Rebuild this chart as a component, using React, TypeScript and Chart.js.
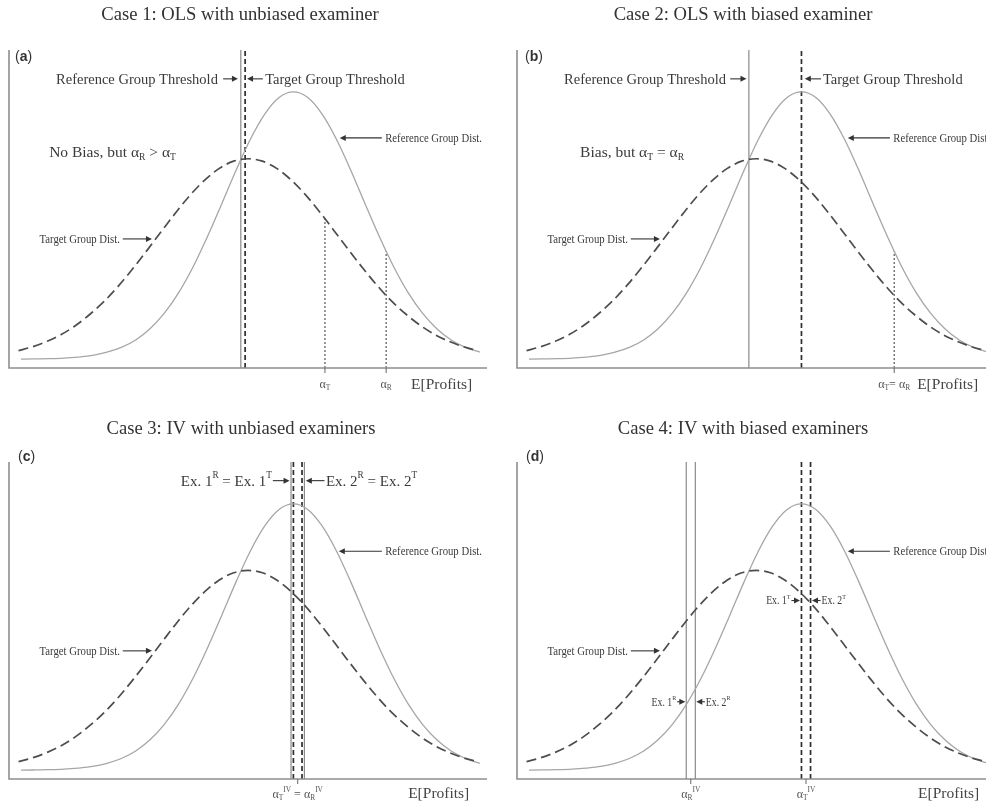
import React, { useEffect, useRef } from "react";
import { Chart, registerables } from "chart.js";
Chart.register(...registerables);

// ---- curve samples (x: profit axis 0..100, y: density, ref peak = 1) ----
const targetX = [2, 5, 8, 11, 14, 17, 20, 23, 26, 29, 32, 35, 38, 41, 44, 47, 50, 53, 56, 59, 62, 65, 68, 71, 74, 77, 80, 83, 86, 89, 92, 95, 98];
const targetY = [0.032, 0.047, 0.067, 0.093, 0.127, 0.169, 0.218, 0.276, 0.341, 0.41, 0.481, 0.551, 0.616, 0.671, 0.714, 0.741, 0.75, 0.741, 0.714, 0.671, 0.616, 0.551, 0.481, 0.41, 0.341, 0.276, 0.218, 0.169, 0.127, 0.093, 0.067, 0.047, 0.032];
const refX = [2.5, 5.5, 8.5, 11.5, 14.5, 17.5, 20.5, 23.5, 26.5, 29.5, 32.5, 35.5, 38.5, 41.5, 44.5, 47.5, 50.5, 53.5, 56.5, 59.5, 62.5, 65.5, 68.5, 71.5, 74.5, 77.5, 80.5, 83.5, 86.5, 89.5, 92.5, 95.5, 98.5];
const refY = [0.0, 0.001, 0.002, 0.004, 0.008, 0.014, 0.026, 0.044, 0.072, 0.114, 0.172, 0.249, 0.345, 0.458, 0.581, 0.707, 0.823, 0.917, 0.979, 1.0, 0.979, 0.917, 0.823, 0.707, 0.581, 0.458, 0.345, 0.249, 0.172, 0.114, 0.072, 0.044, 0.026];

const Y_MIN = -0.033;
const Y_MAX = 1.157;

// Panel (a)
const aRefThreshold = [48.5];
const aTargetThreshold = [49.4];
const aAlphaX = [66.1, 78.9];
const aAlphaTop = [0.526, 0.404];
// Panel (b)
const bRefThreshold = [48.5];
const bTargetThreshold = [59.5];
const bAlphaX = [78.9];
const bAlphaTop = [0.404];
// Panel (c)
const cRefExaminers = [59.0, 61.8];
const cTargetExaminers = [59.5, 61.3];
const cAlphaX = [60.4];
// Panel (d)
const dRefExaminers = [35.4, 37.3];
const dTargetExaminers = [59.5, 61.4];
const dAlphaX = [36.35, 60.45];

const titles = [
  "Case 1: OLS with unbiased examiner",
  "Case 2: OLS with biased examiner",
  "Case 3: IV with unbiased examiners",
  "Case 4: IV with biased examiners",
];
const letters = ["a", "b", "c", "d"];

const SERIF = '"Liberation Serif", "Times New Roman", serif';
const SANS = '"Liberation Sans", Arial, sans-serif';

type Seg = { t: string; s?: "sub" | "sup" };
type TextItem = { segs: Seg[]; x: number; y: number; align: "left" | "right" | "center"; size: number; scaleX?: number; color?: string };
type ArrowItem = { from: number; to: number; y: number };

function drawRich(ctx: CanvasRenderingContext2D, it: TextItem, px: number, py: number) {
  const size = it.size;
  const sx = it.scaleX ?? 1;
  const fontFor = (s?: string) => `${s ? size * 0.62 : size}px ${SERIF}`;
  let w = 0;
  const widths = it.segs.map((sg) => {
    ctx.font = fontFor(sg.s);
    const m = ctx.measureText(sg.t).width;
    w += m;
    return m;
  });
  let x0 = it.align === "left" ? 0 : it.align === "right" ? -w : -w / 2;
  ctx.save();
  ctx.translate(px, py);
  ctx.scale(sx, 1);
  ctx.fillStyle = it.color ?? "#3a3a3a";
  ctx.textAlign = "left";
  ctx.textBaseline = "alphabetic";
  it.segs.forEach((sg, i) => {
    ctx.font = fontFor(sg.s);
    const dy = sg.s === "sub" ? size * 0.2 : sg.s === "sup" ? -size * 0.5 : 0;
    ctx.fillText(sg.t, x0, size * 0.33 + dy);
    x0 += widths[i];
  });
  ctx.restore();
}

function drawArrow(ctx: CanvasRenderingContext2D, x1: number, x2: number, y: number) {
  const dir = x2 > x1 ? 1 : -1;
  ctx.save();
  ctx.strokeStyle = "#333";
  ctx.fillStyle = "#333";
  ctx.lineWidth = 1.1;
  ctx.setLineDash([]);
  ctx.beginPath();
  ctx.moveTo(x1, y);
  ctx.lineTo(x2 - dir * 3, y);
  ctx.stroke();
  ctx.beginPath();
  ctx.moveTo(x2, y);
  ctx.lineTo(x2 - dir * 6, y - 3);
  ctx.lineTo(x2 - dir * 6, y + 3);
  ctx.closePath();
  ctx.fill();
  ctx.restore();
}

type PanelCfg = {
  left: number; top: number; w: number; h: number;
  padding: { left: number; right: number; top: number; bottom: number };
  xMax: number;
  title: string; titleX: number; titleY: number;
  letter: string; letterX: number; letterY: number;
  ticks: number[];
  texts: TextItem[];
  arrows: ArrowItem[];
  datasets: any[];
};

function makePlugin(cfg: PanelCfg) {
  return {
    id: "annot",
    afterDatasetsDraw(chart: any) {
      const ctx: CanvasRenderingContext2D = chart.ctx;
      const { left, right, top, bottom } = chart.chartArea;
      const xs = chart.scales.x;
      const ys = chart.scales.y;
      ctx.save();
      ctx.setLineDash([]);
      ctx.strokeStyle = "#8e8e8e";
      ctx.lineWidth = 1.6;
      ctx.beginPath();
      ctx.moveTo(left, top);
      ctx.lineTo(left, bottom);
      ctx.lineTo(right, bottom);
      ctx.stroke();
      ctx.strokeStyle = "#666";
      ctx.lineWidth = 1;
      for (const t of cfg.ticks) {
        const p = xs.getPixelForValue(t);
        ctx.beginPath();
        ctx.moveTo(p, bottom);
        ctx.lineTo(p, bottom + 5);
        ctx.stroke();
      }
      ctx.fillStyle = "#333";
      ctx.font = `18.6px ${SERIF}`;
      ctx.textAlign = "center";
      ctx.textBaseline = "middle";
      ctx.fillText(cfg.title, cfg.titleX, cfg.titleY);
      // panel letter
      ctx.textAlign = "left";
      ctx.font = `14px ${SANS}`;
      let lx = cfg.letterX;
      ctx.fillText("(", lx, cfg.letterY);
      lx += ctx.measureText("(").width;
      ctx.font = `bold 14px ${SANS}`;
      ctx.fillText(cfg.letter, lx, cfg.letterY);
      lx += ctx.measureText(cfg.letter).width;
      ctx.font = `14px ${SANS}`;
      ctx.fillText(")", lx, cfg.letterY);
      for (const it of cfg.texts) drawRich(ctx, it, xs.getPixelForValue(it.x), ys.getPixelForValue(it.y));
      for (const a of cfg.arrows) drawArrow(ctx, xs.getPixelForValue(a.from), xs.getPixelForValue(a.to), ys.getPixelForValue(a.y));
      ctx.restore();
    },
  };
}

const curves = () => [
  {
    data: targetX.map((x, i) => ({ x, y: targetY[i] })),
    borderColor: "#4d4d4d", borderWidth: 1.7, borderDash: [10, 5], pointRadius: 0,
    cubicInterpolationMode: "monotone", fill: false,
  },
  {
    data: refX.map((x, i) => ({ x, y: refY[i] })),
    borderColor: "#a6a6a6", borderWidth: 1.3, pointRadius: 0,
    cubicInterpolationMode: "monotone", fill: false,
  },
];
const solidThr = { borderColor: "#8a8a8a", borderWidth: 1.2 };
const dashedThr = { borderColor: "#2e2e2e", borderWidth: 1.7, borderDash: [5, 3] };
const dottedAlpha = { borderColor: "#555", borderWidth: 1.2, borderDash: [2, 2] };
const vline = (x: number, yTop: number, style: any) => ({
  data: [{ x, y: Y_MIN }, { x, y: yTop }], pointRadius: 0, fill: false, ...style,
});

const alphaSeg = (sub: string): Seg[] => [{ t: "α" }, { t: sub, s: "sub" }];
const profits: Seg[] = [{ t: "E[Profits]" }];
const small = { size: 12.2, scaleX: 0.88 };

const panels: PanelCfg[] = [
  {
    left: 0, top: 0, w: 493, h: 400,
    padding: { left: 9, right: 6, top: 50, bottom: 32 }, xMax: 100,
    title: titles[0], titleX: 240, titleY: 15,
    letter: letters[0], letterX: 15, letterY: 57,
    ticks: aAlphaX,
    texts: [
      { segs: [{ t: "Reference Group Threshold" }], x: 43.7, y: 1.049, align: "right", size: 14.5 },
      { segs: [{ t: "Target Group Threshold" }], x: 53.6, y: 1.049, align: "left", size: 14.5 },
      { segs: [{ t: "No Bias, but α" }, { t: "R", s: "sub" }, { t: " > α" }, { t: "T", s: "sub" }], x: 8.4, y: 0.776, align: "left", size: 15.5 },
      { segs: [{ t: "Reference Group Dist." }], x: 78.7, y: 0.828, align: "left", ...small },
      { segs: [{ t: "Target Group Dist." }], x: 23.2, y: 0.45, align: "right", ...small },
      { segs: alphaSeg("T"), x: aAlphaX[0], y: -0.093, align: "center", size: 12, color: "#555" },
      { segs: alphaSeg("R"), x: aAlphaX[1], y: -0.093, align: "center", size: 12, color: "#555" },
      { segs: profits, x: 84.1, y: -0.093, align: "left", size: 15.5, color: "#444" },
    ],
    arrows: [
      { from: 44.8, to: 47.9, y: 1.049 },
      { from: 53.1, to: 49.8, y: 1.049 },
      { from: 78.0, to: 69.2, y: 0.828 },
      { from: 23.8, to: 29.9, y: 0.45 },
    ],
    datasets: [
      ...curves(),
      vline(aRefThreshold[0], Y_MAX, solidThr),
      vline(aTargetThreshold[0], Y_MAX, dashedThr),
      vline(aAlphaX[0], aAlphaTop[0], dottedAlpha),
      vline(aAlphaX[1], aAlphaTop[1], dottedAlpha),
    ],
  },
  {
    left: 493, top: 0, w: 493, h: 400,
    padding: { left: 24, right: 0, top: 50, bottom: 32 }, xMax: 98.1,
    title: titles[1], titleX: 250, titleY: 15,
    letter: letters[1], letterX: 32, letterY: 57,
    ticks: bAlphaX,
    texts: [
      { segs: [{ t: "Reference Group Threshold" }], x: 43.7, y: 1.049, align: "right", size: 14.5 },
      { segs: [{ t: "Target Group Threshold" }], x: 64.0, y: 1.049, align: "left", size: 14.5 },
      { segs: [{ t: "Bias, but α" }, { t: "T", s: "sub" }, { t: " = α" }, { t: "R", s: "sub" }], x: 13.2, y: 0.776, align: "left", size: 15.5 },
      { segs: [{ t: "Reference Group Dist." }], x: 78.7, y: 0.828, align: "left", ...small },
      { segs: [{ t: "Target Group Dist." }], x: 23.2, y: 0.45, align: "right", ...small },
      { segs: [{ t: "α" }, { t: "T", s: "sub" }, { t: "= α" }, { t: "R", s: "sub" }], x: bAlphaX[0], y: -0.093, align: "center", size: 12, color: "#555" },
      { segs: profits, x: 83.7, y: -0.093, align: "left", size: 15.5, color: "#444" },
    ],
    arrows: [
      { from: 44.6, to: 48.0, y: 1.049 },
      { from: 63.6, to: 60.2, y: 1.049 },
      { from: 78.0, to: 69.2, y: 0.828 },
      { from: 23.8, to: 29.9, y: 0.45 },
    ],
    datasets: [
      ...curves(),
      vline(bRefThreshold[0], Y_MAX, solidThr),
      vline(bTargetThreshold[0], Y_MAX, dashedThr),
      vline(bAlphaX[0], bAlphaTop[0], dottedAlpha),
    ],
  },
  {
    left: 0, top: 400, w: 493, h: 404,
    padding: { left: 9, right: 6, top: 62, bottom: 25 }, xMax: 100,
    title: titles[2], titleX: 241, titleY: 29,
    letter: letters[2], letterX: 18, letterY: 57,
    ticks: cAlphaX,
    texts: [
      { segs: [{ t: "Ex. 1" }, { t: "R", s: "sup" }, { t: " = Ex. 1" }, { t: "T", s: "sup" }], x: 55.0, y: 1.087, align: "right", size: 15 },
      { segs: [{ t: "Ex. 2" }, { t: "R", s: "sup" }, { t: " = Ex. 2" }, { t: "T", s: "sup" }], x: 66.3, y: 1.087, align: "left", size: 15 },
      { segs: [{ t: "Reference Group Dist." }], x: 78.7, y: 0.822, align: "left", ...small },
      { segs: [{ t: "Target Group Dist." }], x: 23.2, y: 0.448, align: "right", ...small },
      { segs: [{ t: "α" }, { t: "T", s: "sub" }, { t: "IV", s: "sup" }, { t: " = α" }, { t: "R", s: "sub" }, { t: "IV", s: "sup" }], x: cAlphaX[0], y: -0.088, align: "center", size: 12, color: "#555" },
      { segs: profits, x: 83.5, y: -0.085, align: "left", size: 15.5, color: "#444" },
    ],
    arrows: [
      { from: 55.2, to: 58.7, y: 1.087 },
      { from: 66.0, to: 62.1, y: 1.087 },
      { from: 78.0, to: 69.0, y: 0.822 },
      { from: 23.8, to: 29.9, y: 0.448 },
    ],
    datasets: [
      ...curves(),
      vline(cRefExaminers[0], Y_MAX, solidThr),
      vline(cRefExaminers[1], Y_MAX, solidThr),
      vline(cTargetExaminers[0], Y_MAX, dashedThr),
      vline(cTargetExaminers[1], Y_MAX, dashedThr),
    ],
  },
  {
    left: 493, top: 400, w: 493, h: 404,
    padding: { left: 24, right: 0, top: 62, bottom: 25 }, xMax: 98.1,
    title: titles[3], titleX: 250, titleY: 29,
    letter: letters[3], letterX: 33, letterY: 57,
    ticks: dAlphaX,
    texts: [
      { segs: [{ t: "Reference Group Dist." }], x: 78.7, y: 0.822, align: "left", ...small },
      { segs: [{ t: "Target Group Dist." }], x: 23.2, y: 0.448, align: "right", ...small },
      { segs: [{ t: "Ex. 1" }, { t: "T", s: "sup" }], x: 57.2, y: 0.637, align: "right", size: 11.5, scaleX: 0.85 },
      { segs: [{ t: "Ex. 2" }, { t: "T", s: "sup" }], x: 63.7, y: 0.637, align: "left", size: 11.5, scaleX: 0.85 },
      { segs: [{ t: "Ex. 1" }, { t: "R", s: "sup" }], x: 33.3, y: 0.257, align: "right", size: 11.5, scaleX: 0.85 },
      { segs: [{ t: "Ex. 2" }, { t: "R", s: "sup" }], x: 39.5, y: 0.257, align: "left", size: 11.5, scaleX: 0.85 },
      { segs: [{ t: "α" }, { t: "R", s: "sub" }, { t: "IV", s: "sup" }], x: dAlphaX[0], y: -0.088, align: "center", size: 12, color: "#555" },
      { segs: [{ t: "α" }, { t: "T", s: "sub" }, { t: "IV", s: "sup" }], x: dAlphaX[1], y: -0.088, align: "center", size: 12, color: "#555" },
      { segs: profits, x: 83.9, y: -0.085, align: "left", size: 15.5, color: "#444" },
    ],
    arrows: [
      { from: 57.4, to: 59.2, y: 0.637 },
      { from: 63.5, to: 61.7, y: 0.637 },
      { from: 33.5, to: 35.2, y: 0.257 },
      { from: 39.3, to: 37.5, y: 0.257 },
      { from: 78.0, to: 69.2, y: 0.822 },
      { from: 23.8, to: 29.9, y: 0.448 },
    ],
    datasets: [
      ...curves(),
      vline(dRefExaminers[0], Y_MAX, solidThr),
      vline(dRefExaminers[1], Y_MAX, solidThr),
      vline(dTargetExaminers[0], Y_MAX, dashedThr),
      vline(dTargetExaminers[1], Y_MAX, dashedThr),
    ],
  },
];

function Panel({ cfg }: { cfg: PanelCfg }) {
  const ref = useRef<HTMLCanvasElement>(null);
  useEffect(() => {
    const chart = new Chart(ref.current as HTMLCanvasElement, {
      type: "line",
      data: { datasets: cfg.datasets },
      options: {
        animation: false,
        responsive: false,
        maintainAspectRatio: false,
        devicePixelRatio: 1,
        events: [],
        layout: { padding: cfg.padding },
        plugins: { legend: { display: false }, tooltip: { enabled: false } },
        scales: {
          x: { type: "linear", min: 0, max: cfg.xMax, display: false },
          y: { type: "linear", min: Y_MIN, max: Y_MAX, display: false },
        },
      } as any,
      plugins: [makePlugin(cfg)],
    });
    return () => chart.destroy();
  }, []);
  return (
    <canvas
      ref={ref}
      width={cfg.w}
      height={cfg.h}
      style={{ position: "absolute", left: cfg.left, top: cfg.top, width: cfg.w, height: cfg.h, display: "block" }}
    />
  );
}

export default function App() {
  return (
    <div style={{ position: "absolute", left: 0, top: 0, width: 986, height: 804, background: "#fff", overflow: "hidden" }}>
      {panels.map((p, i) => (
        <Panel key={i} cfg={p} />
      ))}
    </div>
  );
}
